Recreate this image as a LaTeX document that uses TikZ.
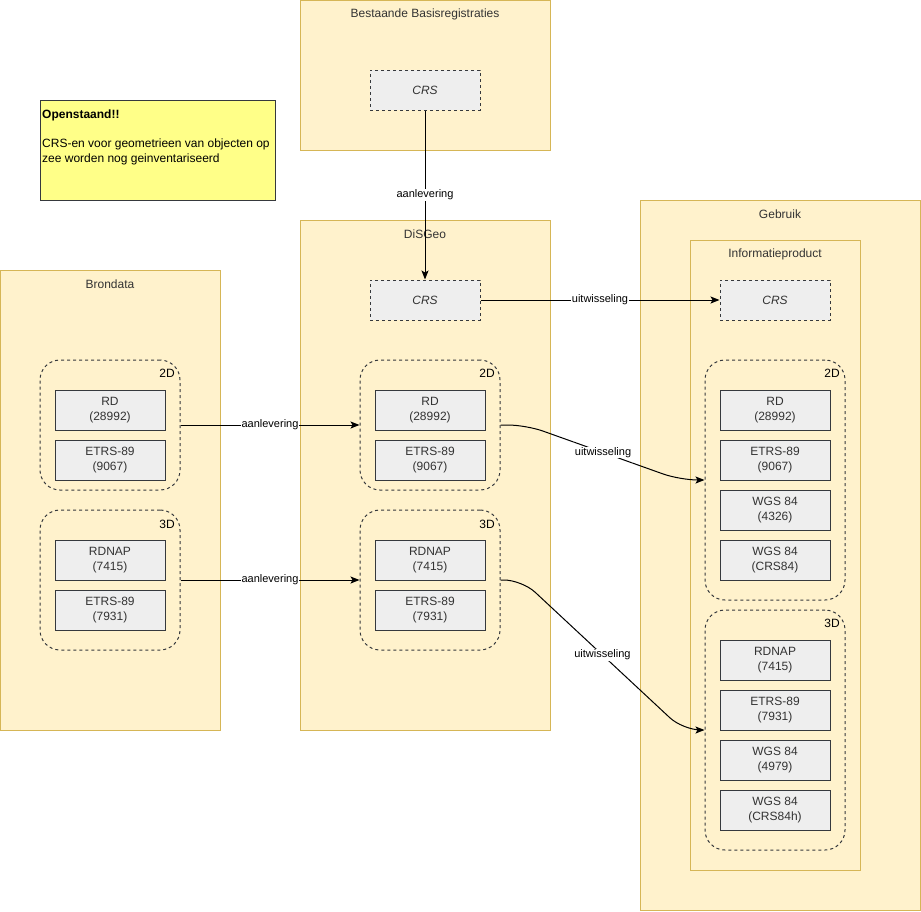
\documentclass[tikz,border=0pt]{standalone}
\usepackage{fontspec}
\setmainfont{Liberation Sans}
\usetikzlibrary{arrows.meta}
\definecolor{contfill}{HTML}{FFF2CC}
\definecolor{contdraw}{HTML}{D6B656}
\definecolor{boxfill}{HTML}{EEEEEE}
\definecolor{boxdraw}{HTML}{36393D}
\definecolor{notefill}{HTML}{FFFF88}
\definecolor{txt}{HTML}{333333}
\begin{document}
\begin{tikzpicture}[x=1pt,y=-1pt,
  every node/.style={text=txt, font=\fontsize{12}{15}\selectfont},
  cont/.style={draw=contdraw, fill=contfill, line width=1pt, inner sep=0pt},
  ctitle/.style={inner sep=0pt, anchor=center},
  crsbox/.style={draw=boxdraw, fill=boxfill, line width=1pt, dash pattern=on 3pt off 3pt,
    minimum width=110pt, minimum height=40pt, inner sep=0pt, font=\fontsize{12}{15}\selectfont\itshape},
  epsg/.style={draw=boxdraw, fill=boxfill, line width=1pt,
    minimum width=110pt, minimum height=40pt, inner sep=0pt, align=center},
  grp/.style={draw=boxdraw, line width=1pt, dash pattern=on 3pt off 3pt, rounded corners=20pt, inner sep=0pt},
  glbl/.style={inner sep=0pt, anchor=center, text=black},
  arr/.style={draw=black, line width=1pt, -{Stealth[length=9pt,width=7pt,inset=2pt]}},
  lbl/.style={fill=white, inner sep=1pt, text=black, font=\fontsize{11}{13}\selectfont},
  note/.style={draw=boxdraw, fill=notefill, line width=1pt, inner sep=0pt}
]
\useasboundingbox (0,0) rectangle (921,911);

% containers
\node[cont, minimum width=250pt, minimum height=150pt] (bb) at (425,75) {};
\node[ctitle] (bbt) at (425,14) {Bestaande Basisregistraties};
\node[cont, minimum width=250pt, minimum height=510pt] (dg) at (425,475) {};
\node[ctitle] (dgt) at (425,234) {DiSGeo};
\node[cont, minimum width=220pt, minimum height=460pt] (bd) at (110,500) {};
\node[ctitle] (bdt) at (110,284) {Brondata};
\node[cont, minimum width=280pt, minimum height=710pt] (gb) at (780,555) {};
\node[ctitle] (gbt) at (780,214) {Gebruik};
\node[cont, minimum width=170pt, minimum height=630pt] (ip) at (775,555) {};
\node[ctitle] (ipt) at (775,254) {Informatieproduct};

% note
\node[note, minimum width=235pt, minimum height=100pt] (nt) at (157.5,150) {};
\node[anchor=north west, inner sep=0pt, align=left, text=black, font=\fontsize{12}{14.5}\selectfont] (ntt) at (42,110)
  {\textbf{Openstaand!!}\\[14.5pt]CRS-en voor geometrieen van objecten op\\zee worden nog geinventariseerd};

% CRS boxes
\node[crsbox] (bbcrs) at (425,90) {CRS};
\node[crsbox] (dgcrs) at (425,300) {CRS};
\node[crsbox] (ipcrs) at (775,300) {CRS};

% Brondata groups
\node[grp, minimum width=140pt, minimum height=130pt] (bd2) at (110,425) {};
\node[glbl] (bd2l) at (167,373) {2D};
\node[epsg] (bdrd) at (110,410) {RD\\(28992)};
\node[epsg] (bde2) at (110,460) {ETRS-89\\(9067)};
\node[grp, minimum width=140pt, minimum height=140pt] (bd3) at (110,580) {};
\node[glbl] (bd3l) at (167,524) {3D};
\node[epsg] (bdnap) at (110,560) {RDNAP\\(7415)};
\node[epsg] (bde3) at (110,610) {ETRS-89\\(7931)};

% DiSGeo groups
\node[grp, minimum width=140pt, minimum height=130pt] (dg2) at (430,425) {};
\node[glbl] (dg2l) at (487,373) {2D};
\node[epsg] (dgrd) at (430,410) {RD\\(28992)};
\node[epsg] (dge2) at (430,460) {ETRS-89\\(9067)};
\node[grp, minimum width=140pt, minimum height=140pt] (dg3) at (430,580) {};
\node[glbl] (dg3l) at (487,524) {3D};
\node[epsg] (dgnap) at (430,560) {RDNAP\\(7415)};
\node[epsg] (dge3) at (430,610) {ETRS-89\\(7931)};

% Informatieproduct groups
\node[grp, minimum width=140pt, minimum height=240pt] (ip2) at (775,480) {};
\node[glbl] (ip2l) at (832,373) {2D};
\node[epsg] (iprd) at (775,410) {RD\\(28992)};
\node[epsg] (ipe2) at (775,460) {ETRS-89\\(9067)};
\node[epsg] (ipw2) at (775,510) {WGS 84\\(4326)};
\node[epsg] (ipc2) at (775,560) {WGS 84\\(CRS84)};
\node[grp, minimum width=140pt, minimum height=240pt] (ip3) at (775,730) {};
\node[glbl] (ip3l) at (832,623) {3D};
\node[epsg] (ipnap) at (775,660) {RDNAP\\(7415)};
\node[epsg] (ipe3) at (775,710) {ETRS-89\\(7931)};
\node[epsg] (ipw3) at (775,760) {WGS 84\\(4979)};
\node[epsg] (ipc3) at (775,810) {WGS 84\\(CRS84h)};

% connectors
\draw[arr] (bbcrs.south) -- node[lbl] (l1) {aanlevering} (dgcrs.north);
\draw[arr] (dgcrs.east) -- node[lbl] (l2) {uitwisseling} (ipcrs.west);
\draw[arr] (bd2.east) -- node[lbl] (l3) {aanlevering} (dg2.west);
\draw[arr] (bd3.east) -- node[lbl] (l4) {aanlevering} (dg3.west);

\coordinate (c1) at (526,425);
\coordinate (c2) at (680,480);
\coordinate (c3) at (522,580);
\coordinate (c4) at (683,730);
\draw[arr, rounded corners=18pt] (dg2.east) -- (c1) -- node[lbl] (l5) {uitwisseling} (c2) -- (ip2.west);
\draw[arr, rounded corners=18pt] (dg3.east) -- (c3) -- node[lbl] (l6) {uitwisseling} (c4) -- (ip3.west);
\end{tikzpicture}
\end{document}
